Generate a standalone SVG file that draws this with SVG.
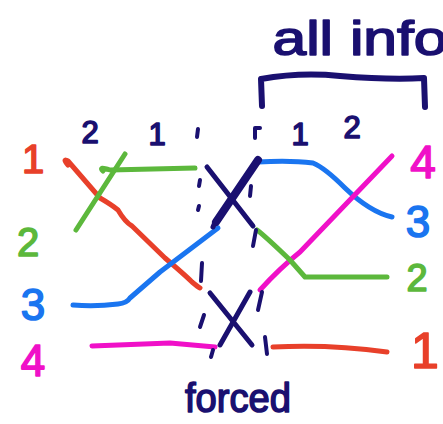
<svg xmlns="http://www.w3.org/2000/svg" width="443" height="424" viewBox="0 0 443 424">
<style>
.ln{fill:none;stroke-linecap:round;stroke-linejoin:round;stroke-width:5}
.r{stroke:#e8402a}.g{stroke:#5cb83c}.b{stroke:#1a75f0}.m{stroke:#f010c8}.n{stroke:#1a1070}
.d{stroke-width:4}
.t{font-family:"Liberation Sans","DejaVu Sans",sans-serif;text-anchor:middle;stroke-width:1.6;stroke-linejoin:round}
.tr{fill:#e8402a;stroke:#e8402a}.tg{fill:#5cb83c;stroke:#5cb83c}.tb{fill:#1a75f0;stroke:#1a75f0}.tm{fill:#f010c8;stroke:#f010c8}.tn{fill:#1a1070;stroke:#1a1070}
</style>
<rect width="443" height="424" fill="#fff"/>
<g id="connectors">
<path class="ln r" d="M68,165 Q62,158 68,161 L100,198 Q112,205 118,210 Q125,222 132,226 L165,258 Q185,275 192,282 Q198,287 200,288"/>
<path class="ln g" d="M76,230 L125,154"/>
<path class="ln g" d="M103,171 Q98,166 110,170 L195,168"/>
<path class="ln b" d="M73,305 Q95,307 118,304 Q127,303 130,298 L160,272 L218,228"/>
<path class="ln m" d="M92,346 L170,343 L215,347"/>
<path class="ln b" d="M258,162 Q290,160 313,163 Q325,168 345,188 Q370,212 392,217"/>
<path class="ln m" d="M260,290 Q280,268 300,252 L392,156"/>
<path class="ln g" d="M257,230 Q265,236 290,260 L305,277 L387,277"/>
<path class="ln r" d="M273,347 Q330,344 387,352"/>
</g>
<g id="crossings" class="ln n">
<path d="M207,167 L253,226"/>
<path d="M258,160 L216,222" stroke-width="8"/>
<path d="M213,227 L216,220"/>
<path d="M210,293 L252,345"/>
<path d="M250,292 L220,345"/>
<path class="d" d="M198,129 L197,137"/>
<path class="d" d="M255,138 L255,128 L260,128"/>
<path class="d" d="M200,180 L199,186"/>
<path class="d" d="M199,206 L198,210"/>
<path class="d" d="M251,186 L250,196"/>
<path class="d" d="M256,230 L253,246"/>
<path class="d" d="M202,263 L201,281"/>
<path class="d" d="M204,315 L200,327"/>
<path class="d" d="M213,350 L211,357"/>
<path class="d" d="M262,292 L258,310"/>
<path class="d" d="M265,337 L267,354"/>
</g>
<g id="bracket" class="ln n">
<path d="M262,106 L261,79 Q300,72 340,76 Q390,80 424,78 L425,107" stroke-width="6"/>
</g>
<g id="labels-left">
<text class="t tr" x="33" y="173" font-size="40">1</text>
<text class="t tg" x="28" y="256" font-size="40">2</text>
<text class="t tb" x="33" y="320" font-size="44">3</text>
<text class="t tm" x="33" y="376" font-size="44">4</text>
</g>
<g id="labels-top">
<text class="t tn" x="90" y="143" font-size="31">2</text>
<text class="t tn" x="157" y="145" font-size="31">1</text>
<text class="t tn" x="300" y="145" font-size="31">1</text>
<text class="t tn" x="352" y="138" font-size="31">2</text>
</g>
<g id="labels-right">
<text class="t tm" x="423" y="178" font-size="46">4</text>
<text class="t tb" x="418" y="237" font-size="44">3</text>
<text class="t tg" x="417" y="291" font-size="38">2</text>
<text class="t tr" x="425" y="368" font-size="50">1</text>
</g>
<g id="captions">
<text class="t tn" x="360" y="55" font-size="48" textLength="175" lengthAdjust="spacingAndGlyphs">all info</text>
<text class="t tn" x="238" y="412" font-size="40" textLength="106" lengthAdjust="spacingAndGlyphs">forced</text>
</g>
</svg>
